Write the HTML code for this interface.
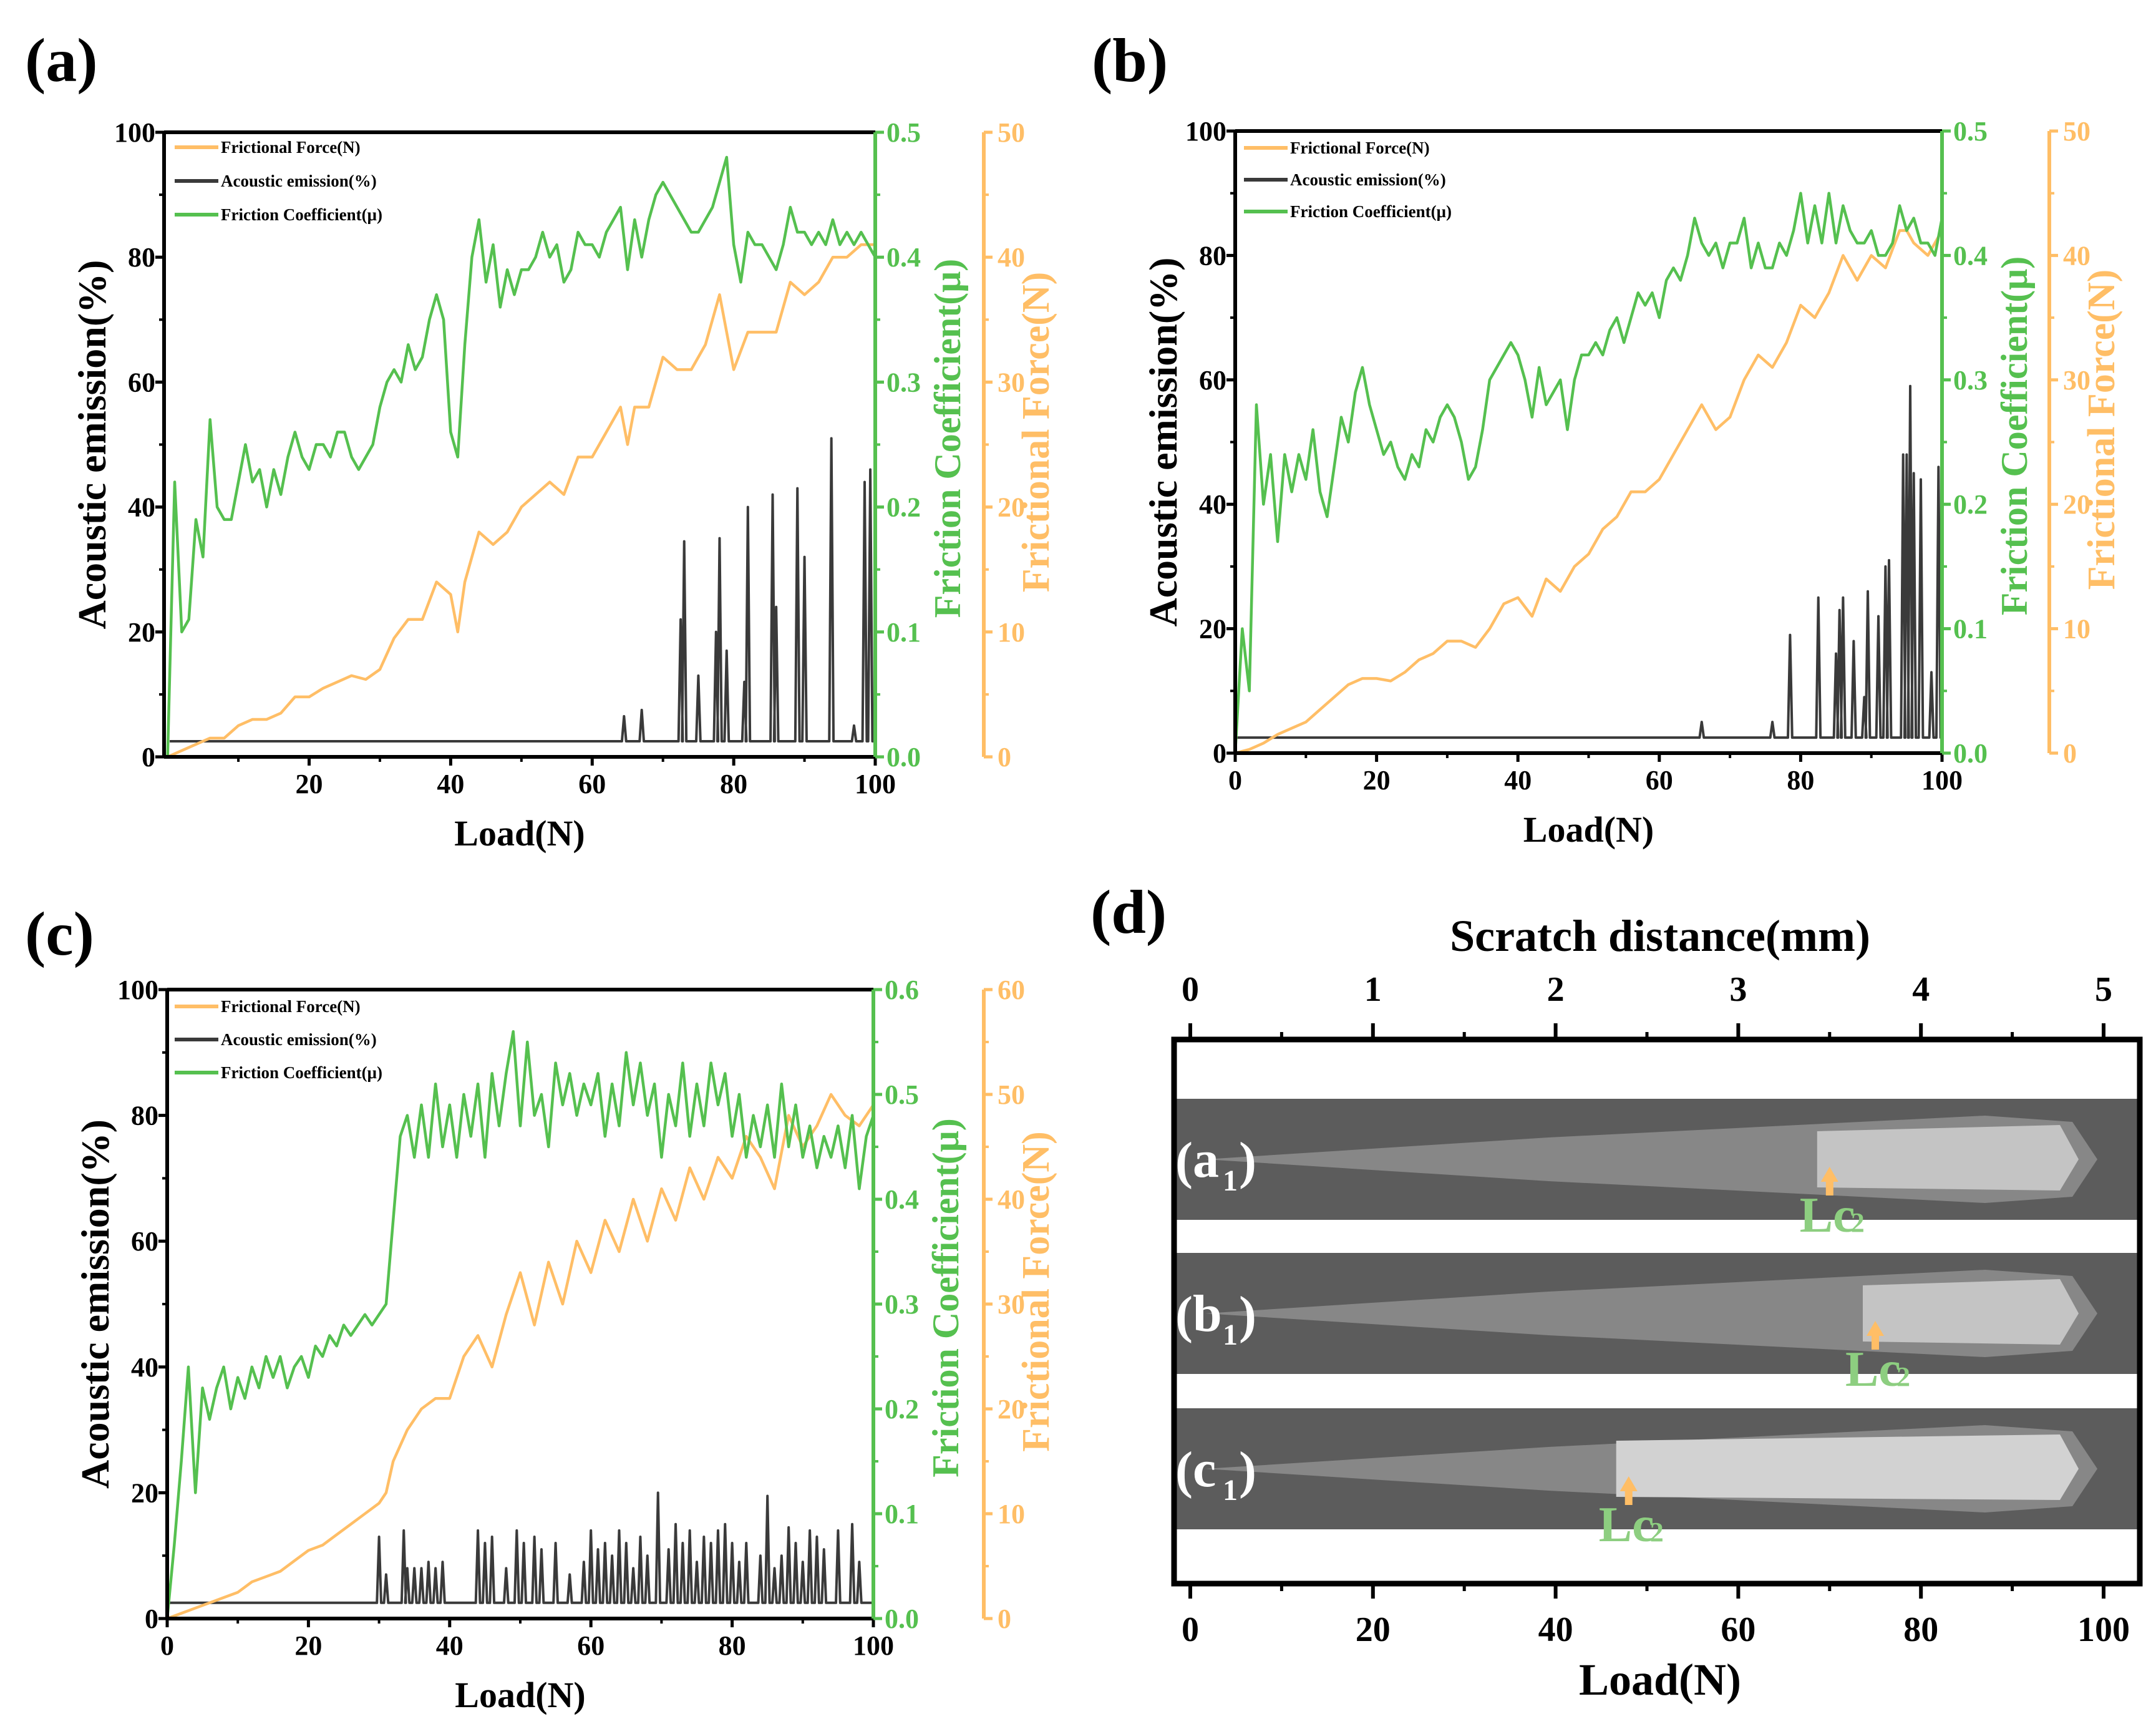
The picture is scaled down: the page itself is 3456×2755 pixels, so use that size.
<!DOCTYPE html>
<html><head><meta charset="utf-8">
<style>
html,body{margin:0;padding:0;background:#fff;}
svg{display:block;font-family:"Liberation Serif",serif;font-weight:bold;}
</style></head>
<body>
<svg id="fig" width="3456" height="2755" viewBox="0 0 3456 2755" xmlns="http://www.w3.org/2000/svg"></svg>
<script>
// ---------- DATA ----------
// Panel (a)
const muA = [0,0.22,0.10,0.11,0.19,0.16,0.27,0.20,0.19,0.19,0.22,0.25,0.22,0.23,0.20,0.23,0.21,0.24,0.26,0.24,0.23,0.25,0.25,0.24,0.26,0.26,0.24,0.23,0.24,0.25,0.28,0.30,0.31,0.30,0.33,0.31,0.32,0.35,0.37,0.35,0.26,0.24,0.33,0.40,0.43,0.38,0.41,0.36,0.39,0.37,0.39,0.39,0.40,0.42,0.40,0.41,0.38,0.39,0.42,0.41,0.41,0.40,0.42,0.43,0.44,0.39,0.43,0.40,0.43,0.45,0.46,0.45,0.44,0.43,0.42,0.42,0.43,0.44,0.46,0.48,0.41,0.38,0.42,0.41,0.41,0.40,0.39,0.41,0.44,0.42,0.42,0.41,0.42,0.41,0.43,0.41,0.42,0.41,0.42,0.41,0.40];
const ffLoadA = [0,2,4,6,8,10,12,14,16,18,20,22,24,26,28,30,32,34,36,38,40,41,42,44,46,48,50,52,54,56,58,60,62,64,65,66,68,70,72,74,76,78,79,80,82,84,86,88,90,92,94,96,98,100];
const ffA = [0,0.5,1,1.5,1.5,2.5,3,3,3.5,4.8,4.8,5.5,6,6.5,6.2,7,9.5,11,11,14,13,10,14,18,17,18,20,21,22,21,24,24,26,28,25,28,28,32,31,31,33,37,34,31,34,34,34,38,37,38,40,40,41,41];
const aeLoadA = [64.5,67,72.5,73,75,77.5,78,79,81.5,82,85.5,86,89,90,93.8,97,98.5,99.3];
const aeA = [6.5,7.5,22,34.5,13,20,35,17,12,40,42,24,43,32,51,5,44,46];
// Panel (b)
const muB = [0,0.1,0.05,0.28,0.20,0.24,0.17,0.24,0.21,0.24,0.22,0.26,0.21,0.19,0.23,0.27,0.25,0.29,0.31,0.28,0.26,0.24,0.25,0.23,0.22,0.24,0.23,0.26,0.25,0.27,0.28,0.27,0.25,0.22,0.23,0.26,0.30,0.31,0.32,0.33,0.32,0.30,0.27,0.31,0.28,0.29,0.30,0.26,0.30,0.32,0.32,0.33,0.32,0.34,0.35,0.33,0.35,0.37,0.36,0.37,0.35,0.38,0.39,0.38,0.40,0.43,0.41,0.40,0.41,0.39,0.41,0.41,0.43,0.39,0.41,0.39,0.39,0.41,0.40,0.42,0.45,0.41,0.44,0.41,0.45,0.41,0.44,0.42,0.41,0.41,0.42,0.40,0.40,0.41,0.44,0.42,0.43,0.41,0.41,0.40,0.43];
const ffLoadB = [0,2,4,6,8,10,12,14,16,18,20,22,24,26,28,30,32,34,36,38,40,42,44,46,48,50,52,54,56,58,60,62,64,66,68,70,72,74,76,78,80,82,84,86,88,90,92,94,95,96,98,100];
const ffB = [0,0.3,0.8,1.5,2,2.5,3.5,4.5,5.5,6,6,5.8,6.5,7.5,8,9,9,8.5,10,12,12.5,11,14,13,15,16,18,19,21,21,22,24,26,28,26,27,30,32,31,33,36,35,37,40,38,40,39,42,42,41,40,42];
const aeLoadB = [66,76,78.5,82.5,85,85.5,86,87.5,89,89.5,91,92,92.5,94.5,95,95.5,96,97,98.5,99.5];
const aeB = [5,5,19,25,16,23,25,18,9,26,22,30,31,48,48,59,45,44,13,46];
// Panel (c)
const muC = [0,0.07,0.15,0.24,0.12,0.22,0.19,0.22,0.24,0.20,0.23,0.21,0.24,0.22,0.25,0.23,0.25,0.22,0.24,0.25,0.23,0.26,0.25,0.27,0.26,0.28,0.27,0.28,0.29,0.28,0.29,0.30,0.38,0.46,0.48,0.44,0.49,0.44,0.51,0.45,0.49,0.44,0.50,0.46,0.51,0.44,0.52,0.47,0.52,0.56,0.47,0.55,0.48,0.50,0.45,0.53,0.49,0.52,0.48,0.51,0.49,0.52,0.46,0.51,0.47,0.54,0.49,0.53,0.48,0.51,0.44,0.50,0.47,0.53,0.46,0.51,0.47,0.53,0.49,0.52,0.46,0.50,0.44,0.48,0.45,0.49,0.44,0.51,0.45,0.49,0.44,0.47,0.43,0.46,0.44,0.47,0.43,0.48,0.41,0.46,0.48];
const ffLoadC = [0,2,4,6,8,10,12,14,16,18,20,22,24,26,28,30,31,32,34,36,38,40,42,44,46,48,50,52,54,56,58,60,62,64,66,68,70,72,74,76,78,80,82,84,86,88,90,92,94,96,98,100];
const ffC = [0,0.5,1,1.5,2,2.5,3.5,4,4.5,5.5,6.5,7,8,9,10,11,12,15,18,20,21,21,25,27,24,29,33,28,34,30,36,33,38,35,40,36,41,38,43,40,44,42,46,44,41,48,45,47,50,48,47,49];
const aeLoadC = [30,31,33.5,34,35,36,37,38,39,44,45,46,48,49.5,50.5,52,53,55,57,59,60,61,62,63,64,65,66,67,68,69.5,71,72,73,74,75,76,77,78,79,80,81,82,84,85,86,87,88,89,90,91,92,93,95,97,98];
const aeC = [13,7,14,8,8,8,9,8,9,14,12,13,8,14,12,13,11,12,7,9,14,11,12,10,14,12,8,13,10,20,11,15,12,14,9,13,12,14,15,12,9,12,10,19.5,8,10,14.5,12,9,14,13,11,14,15,9];
const aeTicks = [0,20,40,60,80,100];
const loadTicksA = [20,40,60,80,100];
const loadTicks = [0,20,40,60,80,100];
const muTicks5 = [0.0,0.1,0.2,0.3,0.4,0.5];
const muTicks6 = [0.0,0.1,0.2,0.3,0.4,0.5,0.6];
const ffTicks50 = [0,10,20,30,40,50];
const ffTicks60 = [0,10,20,30,40,50,60];
const legendLabels = ["Frictional Force(N)","Acoustic emission(%)","Friction Coefficient(μ)"];
// Panel (d)
const distTicks = [0,1,2,3,4,5];
const dLoadTicks = [0,20,40,60,80,100];
const lc2Loads = [70,75,48];
const stripLabels = ["a","b","c"];

const G="#55c04f", O="#ffbe66", K="#3a3a3a";
const svg=document.getElementById('fig');
const NS="http://www.w3.org/2000/svg";
function mk(tag,attrs,parent){const e=document.createElementNS(NS,tag);for(const k in attrs)e.setAttribute(k,attrs[k]);(parent||svg).appendChild(e);return e;}
function txt(s,attrs,parent){const e=mk('text',attrs,parent);e.textContent=s;return e;}

function chart(c){
  const g=mk('g',{});
  
  
  const X=v=>c.x0+(v-c.xmin)/(100-c.xmin)*(c.x1-c.x0);
  const Y=v=>c.y1-v/100*(c.y1-c.y0);
  const YM=v=>c.y1-v/c.muMax*(c.y1-c.y0);
  const YF=v=>c.y1-v/c.ffMax*(c.y1-c.y0);
  let pts=[[X(Math.max(c.xmin,0.3)),Y(2.5)]];
  c.aeL.forEach((l,i)=>{pts.push([X(l-0.3),Y(2.5)],[X(l),Y(c.ae[i])],[X(l+0.3),Y(2.5)]);});
  pts.push([X(100),Y(2.5)]);
  const ae=mk('polyline',{points:pts.map(p=>p.join(',')).join(' '),fill:'none',stroke:K,'stroke-width':4,'stroke-linejoin':'round'},g);
  
  
  const ff=mk('polyline',{points:c.ffL.map((l,i)=>X(Math.max(l,c.xmin))+','+YF(c.ff[i])).join(' '),fill:'none',stroke:O,'stroke-width':4.5,'stroke-linejoin':'round'},g);
  
  
  const mu=mk('polyline',{points:c.mu.map((v,i)=>X(Math.max(i,c.xmin))+','+YM(v)).join(' '),fill:'none',stroke:G,'stroke-width':4.5,'stroke-linejoin':'round'},g);
  
  
  mk('line',{x1:c.x0,y1:c.y0,x2:c.x1,y2:c.y0,stroke:'#000','stroke-width':6},g);
  mk('line',{x1:c.x0,y1:c.y0,x2:c.x0,y2:c.y1,stroke:'#000','stroke-width':6},g);
  mk('line',{x1:c.x0,y1:c.y1,x2:c.x1,y2:c.y1,stroke:'#000','stroke-width':6},g);
  mk('line',{x1:c.x1,y1:c.y0,x2:c.x1,y2:c.y1,stroke:G,'stroke-width':6},g);
  mk('line',{x1:c.oX,y1:c.y0,x2:c.oX,y2:c.y1,stroke:O,'stroke-width':6},g);
  c.aeT.forEach(v=>{mk('line',{x1:c.x0-14,y1:Y(v),x2:c.x0,y2:Y(v),stroke:'#000','stroke-width':5},g);
    const t=txt(String(v),{x:c.x0-14,y:Y(v)+15,'text-anchor':'end','font-size':44},g);
    
    if(v<100)mk('line',{x1:c.x0-8,y1:Y(v+10),x2:c.x0,y2:Y(v+10),stroke:'#000','stroke-width':4},g);});
  c.xT.forEach(v=>{mk('line',{x1:X(v),y1:c.y1,x2:X(v),y2:c.y1+14,stroke:'#000','stroke-width':5},g);
    if(v>0)mk('line',{x1:X(v-10),y1:c.y1,x2:X(v-10),y2:c.y1+8,stroke:'#000','stroke-width':4},g);
    const t=txt(String(v),{x:X(v),y:c.y1+58,'text-anchor':'middle','font-size':44},g);
    });
  c.muT.forEach(v=>{const yy=YM(v);mk('line',{x1:c.x1,y1:yy,x2:c.x1+14,y2:yy,stroke:G,'stroke-width':5},g);
    if(v<c.muMax-0.01)mk('line',{x1:c.x1,y1:YM(v+0.05),x2:c.x1+8,y2:YM(v+0.05),stroke:G,'stroke-width':4},g);
    const t=txt(v.toFixed(1),{x:c.x1+18,y:yy+15,'font-size':44,fill:G},g);
    });
  c.ffT.forEach(v=>{const yy=YF(v);mk('line',{x1:c.oX,y1:yy,x2:c.oX+14,y2:yy,stroke:O,'stroke-width':5},g);
    if(v<c.ffMax)mk('line',{x1:c.oX,y1:YF(v+5),x2:c.oX+8,y2:YF(v+5),stroke:O,'stroke-width':4},g);
    const t=txt(String(v),{x:c.oX+22,y:yy+15,'font-size':44,fill:O},g);
    });
  const cy=(c.y0+c.y1)/2;
  let t=txt("Acoustic emission(%)",{x:0,y:0,'text-anchor':'middle','font-size':64,transform:`translate(${c.x0-94},${cy}) rotate(-90)`},g);
  
  t=txt("Friction Coefficient(μ)",{x:0,y:0,'text-anchor':'middle','font-size':60,fill:G,transform:`translate(${c.x1+136},${cy-10}) rotate(-90)`},g);
  
  t=txt("Frictional Force(N)",{x:0,y:0,'text-anchor':'middle','font-size':62,fill:O,transform:`translate(${c.oX+104},${cy-20}) rotate(-90)`},g);
  
  t=txt("Load(N)",{x:(c.x0+c.x1)/2,y:c.y1+142,'text-anchor':'middle','font-size':58},g);
  
  t=txt(c.label,{x:c.lx,y:c.ly,'font-size':100},g);
  
  const cols=[O,K,G];
  legendLabels.forEach((s,i)=>{const yy=c.legY[i];
    const e=mk('g',{},g);
    
    mk('line',{x1:c.legX,y1:yy,x2:c.legX+70,y2:yy,stroke:cols[i],'stroke-width':6},e);
    txt(s,{x:c.legX+74,y:yy+9,'font-size':27},e);});
}
chart({name:'chart-a',label:'(a)',lx:40,ly:130,x0:263,x1:1403,y0:212,y1:1213,oX:1577,xmin:-0.5,muMax:0.5,ffMax:50,
  mu:muA,ffL:ffLoadA,ff:ffA,aeL:aeLoadA,ae:aeA,aeT:aeTicks,xT:loadTicksA,muT:muTicks5,ffT:ffTicks50,legX:280,legY:[236,290,344]});
chart({name:'chart-b',label:'(b)',lx:1750,ly:130,x0:1980,x1:3113,y0:210,y1:1207,oX:3285,xmin:0,muMax:0.5,ffMax:50,
  mu:muB,ffL:ffLoadB,ff:ffB,aeL:aeLoadB,ae:aeB,aeT:aeTicks,xT:loadTicks,muT:muTicks5,ffT:ffTicks50,legX:1994,legY:[237,288,339]});
chart({name:'chart-c',label:'(c)',lx:40,ly:1530,x0:268,x1:1400,y0:1586,y1:2594,oX:1577,xmin:0,muMax:0.6,ffMax:60,
  mu:muC,ffL:ffLoadC,ff:ffC,aeL:aeLoadC,ae:aeC,aeT:aeTicks,xT:loadTicks,muT:muTicks6,ffT:ffTicks60,legX:280,legY:[1613,1666,1719]});

// ---------- Panel (d) ----------
(function(){
  const g=mk('g',{});
  
  
  const fx0=1882,fx1=3430,fy0=1666,fy1=2538;
  const XD=v=>1908+v/5*(3372-1908);
  const XL=v=>1908+v/100*(3372-1908);
  const strips=[[1761,1955],[2008,2202],[2257,2451]];
  strips.forEach(([a,b],i)=>{
    const s=mk('g',{},g);
    
    
    mk('rect',{x:fx0,y:a,width:fx1-fx0,height:b-a,fill:'#5c5c5c'},s);
    const m=(a+b)/2;
    mk('polygon',{points:`${fx0+50},${m} ${fx0+600},${m-35} ${fx0+1300},${m-70} ${fx0+1440},${m-60} ${fx0+1480},${m} ${fx0+1440},${m+60} ${fx0+1300},${m+70} ${fx0+600},${m+35}`,fill:'#878787'},s);
    const bx=XL(lc2Loads[i]);
    mk('polygon',{points:`${bx-20},${m-45} ${fx0+1420},${m-55} ${fx0+1450},${m} ${fx0+1420},${m+50} ${bx-20},${m+45}`,fill:i==2?'#d2d2d2':'#c4c4c4'},s);
    txt('(',{x:fx0+2,y:m+30,'font-size':84,fill:'#fff'},s);
    txt(stripLabels[i],{x:fx0+30,y:m+28,'font-size':84,fill:'#fff'},s);
    txt('1',{x:fx0+78,y:m+50,'font-size':48,fill:'#fff'},s);
    txt(')',{x:fx0+104,y:m+30,'font-size':84,fill:'#fff'},s);
    const ar=mk('polygon',{points:`${bx},${m+12} ${bx-14},${m+36} ${bx-6},${m+36} ${bx-6},${m+58} ${bx+6},${m+58} ${bx+6},${m+36} ${bx+14},${m+36}`,fill:O},s);
    
    const lc=txt('Lc',{x:bx-48,y:m+116,'font-size':80,fill:'#8dce80'},s);
    
    txt('2',{x:bx+34,y:m+116,'font-size':44,fill:'#8dce80'},s);
  });
  mk('rect',{x:fx0,y:fy0,width:fx1-fx0,height:fy1-fy0,fill:'none',stroke:'#000','stroke-width':9},g);
  distTicks.forEach(v=>{mk('line',{x1:XD(v),y1:fy0,x2:XD(v),y2:fy0-26,stroke:'#000','stroke-width':6},g);
    if(v<5)mk('line',{x1:XD(v+0.5),y1:fy0,x2:XD(v+0.5),y2:fy0-12,stroke:'#000','stroke-width':5},g);
    const t=txt(String(v),{x:XD(v),y:1604,'text-anchor':'middle','font-size':56},g);
    });
  dLoadTicks.forEach(v=>{mk('line',{x1:XL(v),y1:fy1,x2:XL(v),y2:fy1+24,stroke:'#000','stroke-width':6},g);
    if(v<100)mk('line',{x1:XL(v+10),y1:fy1,x2:XL(v+10),y2:fy1+12,stroke:'#000','stroke-width':5},g);
    const t=txt(String(v),{x:XL(v),y:2630,'text-anchor':'middle','font-size':56},g);
    });
  let t=txt('Scratch distance(mm)',{x:2661,y:1524,'text-anchor':'middle','font-size':72},g);
  
  t=txt('Load(N)',{x:2661,y:2716,'text-anchor':'middle','font-size':72},g);
  
  t=txt('(d)',{x:1748,y:1495,'font-size':100},g);
  
})();
</script>
</body></html>
